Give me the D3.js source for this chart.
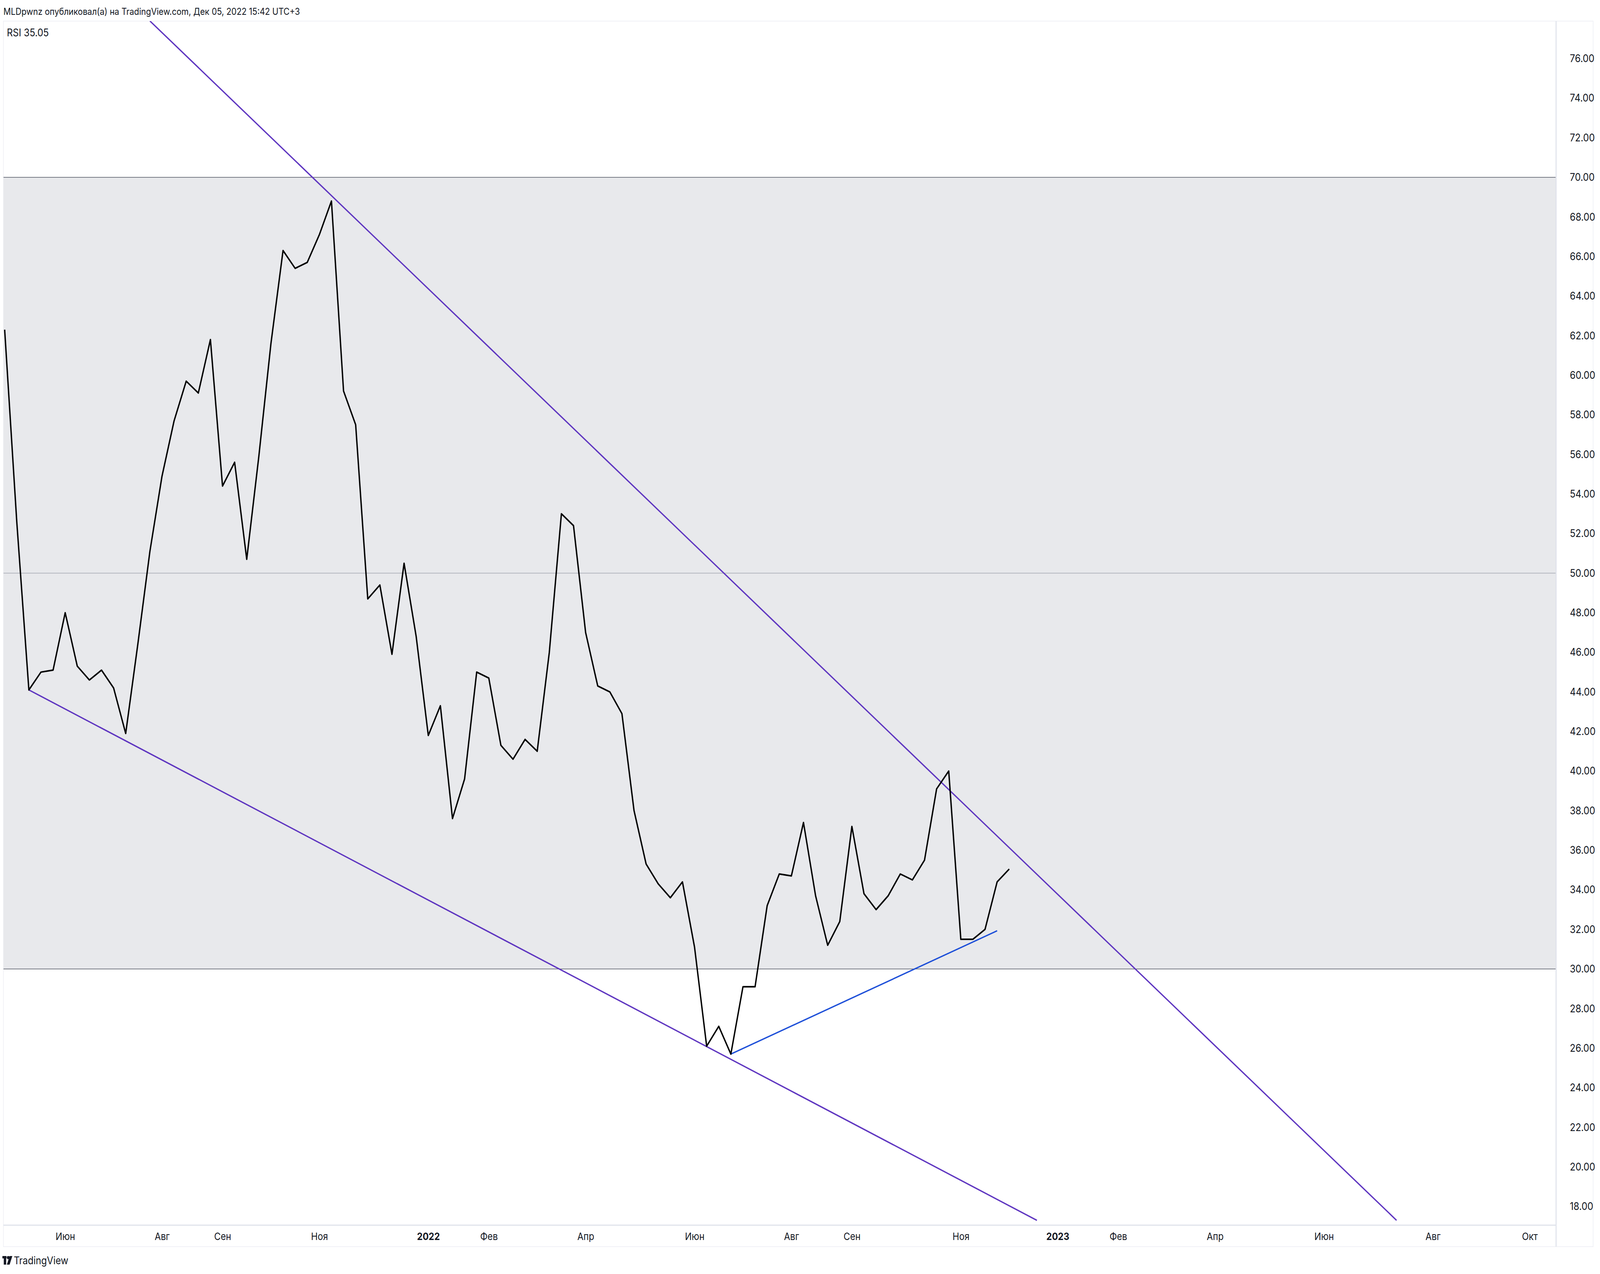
<!DOCTYPE html>
<html><head><meta charset="utf-8">
<script src="https://cdn.jsdelivr.net/npm/d3@7"></script>
<style>html,body{margin:0;background:#fff;overflow:hidden}svg{display:block;width:100vw;height:100vh}</style></head>
<body><svg id="c" viewBox="0 0 4664 3262" preserveAspectRatio="none"></svg>
<script>
const rsiValues=[62.3,52.6,44.1,45.0,45.1,48.0,45.3,44.6,45.1,44.2,41.9,46.4,51.1,54.9,57.7,59.7,59.1,61.8,54.4,55.6,50.7,55.9,61.6,66.3,65.4,65.7,67.1,68.8,59.2,57.5,48.7,49.4,45.9,50.5,46.8,41.8,43.3,37.6,39.6,45.0,44.7,41.3,40.6,41.6,41.0,46.0,53.0,52.4,47.0,44.3,44.0,42.9,38.0,35.3,34.3,33.6,34.4,31.1,26.1,27.1,25.7,29.1,29.1,33.2,34.8,34.7,37.4,33.7,31.2,32.4,37.2,33.8,33.0,33.7,34.8,34.5,35.5,39.1,40.0,31.5,31.5,32.0,34.4,35.05];
const firstWeek="2021-05-03";
const yTicks=[18,20,22,24,26,28,30,32,34,36,38,40,42,44,46,48,50,52,54,56,58,60,62,64,66,68,70,72,74,76];
const monthTicks=[["2021-06-07","Июн"],["2021-08-02","Авг"],["2021-09-06","Сен"],["2021-11-01","Ноя"],["2022-01-03","2022"],["2022-02-07","Фев"],["2022-04-04","Апр"],["2022-06-06","Июн"],["2022-08-01","Авг"],["2022-09-05","Сен"],["2022-11-07","Ноя"],["2023-01-02","2023"],["2023-02-06","Фев"],["2023-04-03","Апр"],["2023-06-05","Июн"],["2023-08-07","Авг"],["2023-10-02","Окт"]];
const upperTrend=[["2021-07-26",77.9],["2023-07-17",17.3]];
const lowerTrend=[["2021-05-17",44.1],["2022-12-21",17.3]];
const blueTrend=[["2022-06-27",25.7],["2022-11-28",31.93]];

const P=d3.timeParse("%Y-%m-%d");
const svg=d3.select("#c");
const L=10,T=54,R=4536,B=3137,AR=4644,AB=3192;
const x=d3.scaleTime().domain([P("2021-06-07"),P("2023-10-02")]).range([190,4459]);
const y=d3.scaleLinear().domain([70,30]).range([454,2481]);
const F="Inter, 'Noto Sans', sans-serif";
const t0=P(firstWeek);
const data=rsiValues.map((v,i)=>({d:d3.timeDay.offset(t0,7*i),v}));

svg.append("defs").append("clipPath").attr("id","clip").append("rect").attr("x",L).attr("y",T).attr("width",R-L).attr("height",B-T);
svg.append("rect").attr("x",L).attr("y",T).attr("width",AR-L).attr("height",AB-T).attr("fill","none").attr("stroke","#f0f1f6").attr("stroke-width",2);
const g=svg.append("g").attr("clip-path","url(#clip)");
g.append("rect").attr("x",L).attr("y",y(70)).attr("width",R-L).attr("height",y(30)-y(70)).attr("fill","#e8e9ec");
[70,30].forEach(v=>g.append("line").attr("x1",L).attr("x2",R).attr("y1",y(v)).attr("y2",y(v)).attr("stroke","#787b86").attr("stroke-width",2));
g.append("line").attr("x1",L).attr("x2",R).attr("y1",y(50)).attr("y2",y(50)).attr("stroke","#b2b5be").attr("stroke-width",2);
const tl=(arr,c)=>g.append("line").attr("x1",x(P(arr[0][0]))).attr("y1",y(arr[0][1])).attr("x2",x(P(arr[1][0]))).attr("y2",y(arr[1][1])).attr("stroke",c).attr("stroke-width",3.5);
tl(upperTrend,"#5e35c0");tl(lowerTrend,"#5e35c0");tl(blueTrend,"#1d4fd8");
g.append("path").datum(data).attr("d",d3.line().x(d=>x(d.d)).y(d=>y(d.v))).attr("fill","none").attr("stroke","#000").attr("stroke-width",4).attr("stroke-linejoin","round");
svg.append("line").attr("x1",R).attr("x2",R).attr("y1",T).attr("y2",AB).attr("stroke","#e0e3eb").attr("stroke-width",3);
svg.append("line").attr("x1",L).attr("x2",R).attr("y1",B).attr("y2",B).attr("stroke","#e0e3eb").attr("stroke-width",3);
const ya=svg.append("g").attr("transform",`translate(${R},0)`).call(d3.axisRight(y).tickValues(yTicks).tickSize(0).tickPadding(40).tickFormat(d3.format(".2f")));
ya.select(".domain").remove();
ya.selectAll("text").attr("font-family",F).attr("font-size",27).attr("fill","#131722");
const xa=svg.append("g").attr("transform",`translate(0,${B})`).call(d3.axisBottom(x).tickValues(monthTicks.map(m=>P(m[0]))).tickSize(0).tickPadding(20).tickFormat((d,i)=>monthTicks[i][1]));
xa.select(".domain").remove();
xa.selectAll("text").attr("font-family",F).attr("font-size",26).attr("fill","#131722").attr("font-weight",(d,i)=>/^\d/.test(monthTicks[i][1])?"bold":"normal");
svg.append("text").attr("x",10).attr("y",38).attr("font-family",F).attr("font-size",24).attr("fill","#131722").text("MLDpwnz опубликовал(а) на TradingView.com, Дек 05, 2022 15:42 UTC+3");
svg.append("text").attr("x",20).attr("y",93).attr("font-family",F).attr("font-size",27).attr("fill","#131722").text("RSI  35.05");
const lg=svg.append("g").attr("fill","#131722");
lg.append("rect").attr("x",7).attr("y",3216).attr("width",12).attr("height",6);
lg.append("rect").attr("x",11).attr("y",3216).attr("width",7).attr("height",22);
lg.append("circle").attr("cx",24).attr("cy",3220).attr("r",4);
lg.append("path").attr("d","M28,3216 L36,3216 L28,3238 L20,3238 Z");
svg.append("text").attr("x",40).attr("y",3237).attr("font-family",F).attr("font-size",27).attr("fill","#131722").text("TradingView");
</script></body></html>
